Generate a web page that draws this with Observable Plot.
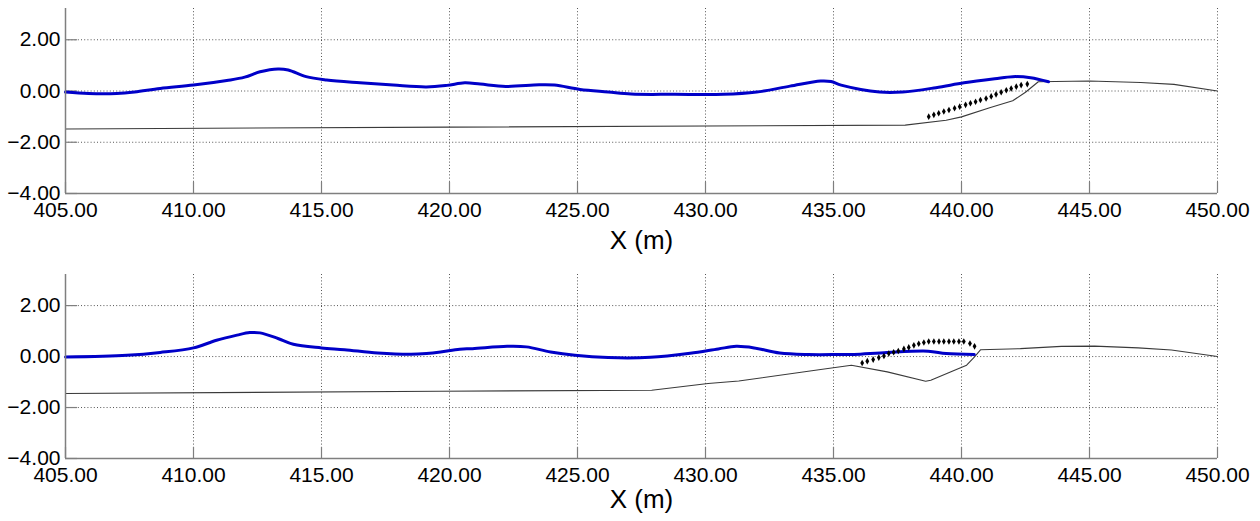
<!DOCTYPE html>
<html>
<head>
<meta charset="utf-8">
<script src="https://cdn.jsdelivr.net/npm/d3@7"></script>
<script src="https://cdn.jsdelivr.net/npm/@observablehq/plot@0.6"></script>
<style>
  html, body { margin: 0; padding: 0; background: #fff; }
  #chart { width: 1260px; }
  #chart svg { display: block; font-family: "Liberation Sans", Arial, sans-serif; }
</style>
</head>
<body>
<div id="chart"></div>
<script>
// ---- tick labels ----
const xTicks = [405, 410, 415, 420, 425, 430, 435, 440, 445, 450];
const yTicks = [-4, -2, 0, 2];
const xLabel = "X (m)";

// ---- top panel ----
const surf1X = [405, 405.9, 407.0, 407.7, 408.7, 410.0, 411.3, 412.0, 412.6, 413.3, 413.7, 414.4, 415.2, 416.5, 417.8, 419.1, 419.9, 420.6, 421.2, 422.2, 423.5, 424.1, 425.1, 426.2, 427.1, 428.8, 430.7, 432.0, 433.3, 434.5, 434.9, 435.3, 436.8, 437.7, 439.0, 440.1, 441.3, 442.0, 442.7, 443.4];
const surf1Y = [-0.04, -0.10, -0.10, -0.04, 0.10, 0.23, 0.41, 0.54, 0.75, 0.86, 0.82, 0.56, 0.43, 0.32, 0.23, 0.16, 0.22, 0.32, 0.27, 0.18, 0.24, 0.23, 0.06, -0.04, -0.12, -0.13, -0.13, -0.04, 0.19, 0.39, 0.37, 0.23, -0.04, -0.04, 0.13, 0.32, 0.48, 0.56, 0.52, 0.36];
const bed1X = [405, 420, 437.8, 439.4, 440.0, 441.1, 442.0, 442.5, 443.0, 445.0, 447.0, 448.3, 450];
const bed1Y = [-1.48, -1.41, -1.33, -1.14, -1.01, -0.65, -0.38, -0.05, 0.36, 0.39, 0.33, 0.26, 0.0];
const dots1X = [438.72, 438.92, 439.11, 439.31, 439.51, 439.73, 439.93, 440.16, 440.35, 440.55, 440.74, 440.96, 441.16, 441.35, 441.55, 441.75, 441.94, 442.14, 442.33, 442.57];
const dots1Y = [-1.00, -0.93, -0.87, -0.80, -0.74, -0.67, -0.61, -0.54, -0.48, -0.42, -0.35, -0.29, -0.21, -0.13, -0.05, 0.03, 0.10, 0.17, 0.23, 0.27];

// ---- bottom panel ----
const surf2X = [405, 407.4, 408.7, 410.0, 410.9, 411.7, 412.2, 412.6, 413.3, 413.9, 415.0, 415.9, 417.2, 418.5, 419.1, 419.65, 420.4, 420.9, 422.25, 423.0, 423.95, 424.9, 426.2, 427.85, 429.4, 430.5, 431.2, 431.9, 432.9, 434.0, 435.3, 435.8, 437.1, 438.7, 439.4, 440.5];
const surf2Y = [-0.02, 0.05, 0.16, 0.34, 0.64, 0.84, 0.94, 0.93, 0.71, 0.48, 0.34, 0.27, 0.14, 0.09, 0.12, 0.18, 0.29, 0.31, 0.40, 0.38, 0.18, 0.05, -0.04, -0.03, 0.13, 0.30, 0.40, 0.34, 0.14, 0.08, 0.08, 0.08, 0.16, 0.21, 0.12, 0.08];
const bed2X = [405, 419.6, 427.9, 430.1, 431.3, 434.5, 435.7, 437.1, 438.6, 438.8, 439.8, 440.2, 440.5, 440.75, 442.3, 443.9, 445.2, 446.9, 448.2, 450];
const bed2Y = [-1.45, -1.36, -1.32, -1.06, -0.96, -0.51, -0.34, -0.60, -0.97, -0.93, -0.51, -0.34, -0.02, 0.27, 0.31, 0.40, 0.41, 0.34, 0.26, 0.0];
const dots2X = [436.12, 436.32, 436.55, 436.77, 436.97, 437.16, 437.35, 437.53, 437.75, 437.94, 438.14, 438.33, 438.53, 438.72, 438.92, 439.12, 439.31, 439.51, 439.70, 439.90, 440.09, 440.33, 440.51];
const dots2Y = [-0.25, -0.18, -0.12, -0.04, 0.02, 0.12, 0.17, 0.22, 0.30, 0.36, 0.44, 0.50, 0.55, 0.59, 0.59, 0.59, 0.59, 0.59, 0.59, 0.59, 0.59, 0.51, 0.40];

const zip = (xs, ys) => xs.map((x, i) => ({x, y: ys[i]}));
const fmt = d3.format(".2f");
const AX = "#7f7f7f";

function panel(sx, sy, bx, by, dx, dy, o) {
  const width = 1260, marginLeft = 65, marginRight = 43;
  const plotH = o.height - o.marginTop - o.marginBottom;
  const plotW = width - marginLeft - marginRight;
  return Plot.plot({
    width, height: o.height,
    marginTop: o.marginTop, marginBottom: o.marginBottom,
    marginLeft, marginRight,
    style: {fontFamily: "Liberation Sans, Arial, sans-serif", background: "#fff", overflow: "visible"},
    x: {domain: [405, 450]},
    y: {domain: [-4, 3.22]},
    marks: [
      Plot.gridX(xTicks, {stroke: "#444", strokeOpacity: 0.9, strokeDasharray: "1,2.2"}),
      Plot.gridY(yTicks, {stroke: "#444", strokeOpacity: 0.9, strokeDasharray: "1,2.2"}),
      Plot.tickX(xTicks, {x: d => d, stroke: AX, strokeWidth: 1.2, insetTop: plotH - 11}),
      Plot.tickY(yTicks, {y: d => d, stroke: AX, strokeWidth: 1.2, insetRight: plotW - 12}),
      Plot.line(zip(bx, by), {x: "x", y: "y", stroke: "#3a3a3a", strokeWidth: 1.1}),
      Plot.line(zip(sx, sy), {x: "x", y: "y", stroke: "#0000c8", strokeWidth: 3, curve: "catmull-rom"}),
      Plot.dot(zip(dx, dy), {x: "x", y: "y", r: 2, fill: "#000", stroke: "none", symbol: "diamond"}),
      Plot.ruleX([405], {stroke: AX, strokeWidth: 1.5}),
      Plot.ruleY([-4], {stroke: AX, strokeWidth: 1.5}),
      Plot.axisY(yTicks, {tickSize: 0, tickPadding: 5, fontSize: 21, tickFormat: fmt, label: null, fill: "#000"}),
      Plot.axisX(xTicks, {tickSize: 0, tickPadding: 9, fontSize: 21, tickFormat: fmt, label: null, fill: "#000"}),
      Plot.text([xLabel], {frameAnchor: "bottom", dy: o.labelDy, fontSize: 26, fill: "#000", lineAnchor: "middle"})
    ]
  });
}

const chart = document.getElementById("chart");
chart.append(panel(surf1X, surf1Y, bed1X, bed1Y, dots1X, dots1Y, {height: 260, marginTop: 8, marginBottom: 67, labelDy: 47}));
chart.append(panel(surf2X, surf2Y, bed2X, bed2Y, dots2X, dots2Y, {height: 261, marginTop: 14, marginBottom: 63, labelDy: 41}));
</script>
</body>
</html>
